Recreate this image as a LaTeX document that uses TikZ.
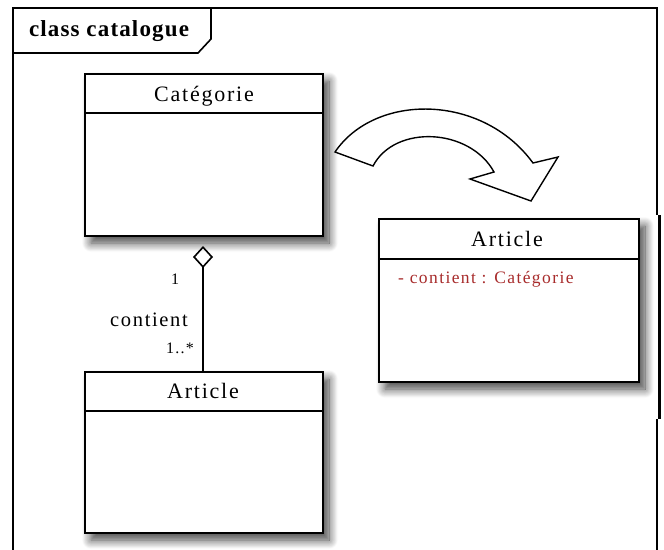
\documentclass[tikz,border=0pt]{standalone}
\usepackage{fontspec}
\setmainfont{Liberation Serif}
\newfontfamily\trackedfont[LetterSpace=8]{Liberation Serif}
\usetikzlibrary{arrows.meta,shadows.blur}
\definecolor{attrred}{RGB}{168,44,44}
\begin{document}
\begin{tikzpicture}[x=1pt,y=-1pt,
  classbox/.style={draw=black,line width=2pt,fill=white,inner sep=0pt,
    blur shadow={shadow xshift=6pt,shadow yshift=-7pt,shadow blur radius=9pt,shadow opacity=75,shadow blur steps=12}},
  classname/.style={font=\trackedfont\fontsize{22}{24}\selectfont,inner sep=0pt},
  frameline/.style={line width=2pt,line cap=butt},
  lbl/.style={font=\trackedfont\fontsize{20.5}{22}\selectfont,inner sep=0pt},
  mult/.style={font=\trackedfont\fontsize{16}{18}\selectfont,inner sep=0pt}
]
\useasboundingbox (0,0) rectangle (664,549);
\begin{scope}
\clip (0,0) rectangle (664,549);
% diagram frame
\draw[frameline] (13,560) -- (13,8) -- (657,8) -- (657,215);
\draw[line width=2.4pt] (659.5,215) -- (659.5,419);
\draw[frameline] (657,419) -- (657,560);
% frame name tab
\draw[line width=1.6pt] (13,53) -- (198,53) -- (211,39) -- (211,8);
\node[font=\bfseries\addfontfeatures{LetterSpace=5}\fontsize{23}{25}\selectfont,inner sep=0pt] (title) at (109,31) {class catalogue};

% classes
\node[classbox,minimum width=238pt,minimum height=162pt] (cat) at (204,155) {};
\draw[line width=2pt] (cat.north west) ++(0,40) -- ++(238,0);
\node[classname] (catname) at (204,96) {Catégorie};

\node[classbox,minimum width=238pt,minimum height=161pt] (art) at (204,452.5) {};
\draw[line width=2pt] (art.north west) ++(0,40) -- ++(238,0);
\node[classname] (artname) at (203,391) {Article};

\node[classbox,minimum width=260pt,minimum height=163pt] (art2) at (509,300.5) {};
\draw[line width=2pt] (art2.north west) ++(0,41) -- ++(260,0);
\node[classname] (art2name) at (507,239) {Article};
\node[font=\trackedfont\fontsize{17.5}{19}\selectfont,text=attrred,inner sep=0pt,anchor=base west] (attr) at (398,283) {- contient : Catégorie};

% aggregation
\draw[line width=2pt,{Diamond[open,length=22pt,width=20pt,line width=1.6pt]}-,shorten <=9pt] ([xshift=-1pt]cat.south) -- ([xshift=-1pt]art.north);
\node[mult] (m1) at (175,279) {1};
\node[lbl] (role) at (149,320) {contient};
\node[mult] (m2) at (180,348) {1..*};

% curved block arrow
\draw[line width=1.4pt,line join=miter,fill=white]
  (335,152) .. controls (375,93) and (482,93) .. (533,163)
  -- (558,157) -- (531,201) -- (470,179) -- (494,172)
  .. controls (470,128) and (395,124) .. (373,166) -- cycle;
\end{scope}
\end{tikzpicture}
\end{document}
